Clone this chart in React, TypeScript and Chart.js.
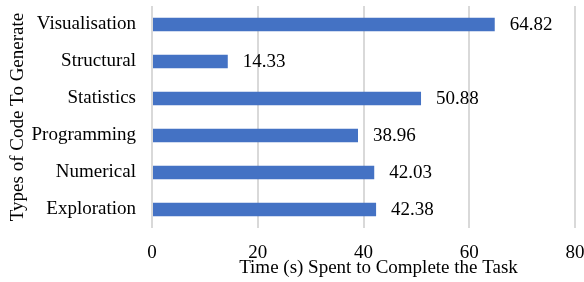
import React, { useEffect, useRef } from "react";
import { Chart, registerables } from "chart.js";

Chart.register(...registerables);

const categories = ["Visualisation", "Structural", "Statistics", "Programming", "Numerical", "Exploration"];
const values = [64.82, 14.33, 50.88, 38.96, 42.03, 42.38];
const xTicks = [0, 20, 40, 60, 80];
const xTitle = "Time (s) Spent to Complete the Task";
const yTitle = "Types of Code To Generate";

const FONT = "'Liberation Serif', 'Times New Roman', serif";
const FS = 19;

const dataLabels = {
  id: "dataLabels",
  afterDatasetsDraw(chart: any) {
    const ctx = chart.ctx;
    const meta = chart.getDatasetMeta(0);
    ctx.save();
    ctx.font = `${FS}px ${FONT}`;
    ctx.fillStyle = "#000";
    ctx.textAlign = "left";
    ctx.textBaseline = "middle";
    meta.data.forEach((bar: any, i: number) => {
      ctx.fillText(values[i].toFixed(2), bar.x + 15, bar.y + 1);
    });
    // x axis title, offset to the right as in the source
    const area = chart.chartArea;
    ctx.textAlign = "center";
    ctx.fillText(xTitle, (area.left + area.right) / 2 + 15, chart.height - 14);
    ctx.restore();
  },
};

const zeroPad = (s: any) => {
  s.paddingTop = 0;
  s.paddingBottom = 0;
  s.paddingLeft = 0;
  s.paddingRight = 0;
};

export default function App() {
  const ref = useRef<HTMLCanvasElement>(null);
  useEffect(() => {
    document.body.style.margin = "0";
    const chart = new Chart(ref.current!, {
      type: "bar",
      data: {
        labels: categories,
        datasets: [
          {
            data: values,
            backgroundColor: "#4472C4",
            barPercentage: 0.36,
            categoryPercentage: 1,
          },
        ],
      },
      options: {
        indexAxis: "y",
        animation: false,
        responsive: false,
        layout: { padding: { top: 6, right: 9, left: 0, bottom: 0 } },
        plugins: { legend: { display: false }, tooltip: { enabled: false } },
        scales: {
          x: {
            min: 0,
            max: 80,
            afterBuildTicks: (s: any) => {
              s.ticks = xTicks.map((v) => ({ value: v }));
            },
            afterFit: (s: any) => {
              s.height = 54;
              zeroPad(s);
            },
            grid: { color: "#d9d9d9", lineWidth: 2, drawTicks: false },
            border: { display: false },
            ticks: { font: { family: FONT, size: FS }, color: "#000", padding: 14 },
            title: { display: false },
          },
          y: {
            afterFit: (s: any) => {
              s.width = 152;
              zeroPad(s);
            },
            grid: { display: false, drawTicks: false },
            border: { display: false },
            ticks: { font: { family: FONT, size: FS }, color: "#000", padding: 16 },
            title: {
              display: true,
              text: yTitle,
              font: { family: FONT, size: FS },
              color: "#000",
              padding: { top: 7, bottom: 0 },
            },
          },
        },
      },
      plugins: [dataLabels],
    });
    return () => chart.destroy();
  }, []);
  return (
    <div style={{ width: 584, height: 282 }}>
      <canvas ref={ref} width={584} height={282} style={{ display: "block" }} />
    </div>
  );
}
